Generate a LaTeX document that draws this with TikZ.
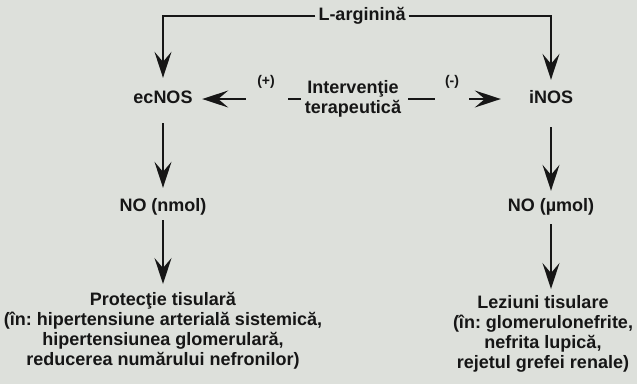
\documentclass[tikz,border=0pt]{standalone}
\usepackage{fontspec}
\setmainfont{Liberation Sans}
\usetikzlibrary{arrows.meta}
\definecolor{bg}{HTML}{DDE0DB}
\definecolor{ink}{HTML}{161616}
\frenchspacing
\begin{document}
\begin{tikzpicture}[x=1pt,y=-1pt,
  every node/.style={font=\bfseries\fontsize{18}{20}\selectfont, text=ink, inner sep=0pt},
  lbl/.style={text height=13pt, text depth=4pt},
  multi/.style={align=center, anchor=north},
  sign/.style={font=\bfseries\fontsize{14}{16}\selectfont},
  conn/.style={draw=ink, line width=1.8pt, -{Stealth[length=26pt,width=17pt,inset=10pt]}}]
\fill[bg] (0,0) rectangle (637,384);
\useasboundingbox (0,0) rectangle (637,384);
% nodes
\node[lbl] (larg) at (362,16) {L-arginină};
\node[lbl] (ecnos) at (163,99) {ecNOS};
\node[lbl] (inos) at (551,99) {iNOS};
\node[align=center] (interv) at (353,99) {Intervenţie\\terapeutică};
\node[sign] (plus) at (266,82) {(+)};
\node[sign] (minus) at (452,82) {(-)};
\node[lbl] (nonm) at (163,207) {NO (nmol)};
\node[lbl] (noum) at (551,207) {NO (µmol)};
\node[multi] (prot) at (163,292) {Protecţie tisulară\\(în: hipertensiune arterială sistemică,\\hipertensiunea glomerulară,\\reducerea numărului nefronilor)};
\node[multi] (lez) at (543,295) {Leziuni tisulare\\(în: glomerulonefrite,\\nefrita lupică,\\rejetul grefei renale)};
% connectors
\draw[conn, shorten <=3pt, shorten >=12.5pt] (larg.west) -| (ecnos.north);
\draw[conn, shorten <=3pt, shorten >=10.5pt] (larg.east) -| (inos.north);
\draw[conn, shorten <=4pt, shorten >=9.5pt, dash pattern=on 13pt off 42pt on 400pt] (interv.west) -- (ecnos.east);
\draw[conn, shorten <=7pt, shorten >=28pt, dash pattern=on 27pt off 34pt on 400pt] (interv.east) -- (inos.west);
\draw[conn, shorten <=15.5pt, shorten >=10.5pt] (ecnos.south) -- (nonm.north);
\draw[conn, shorten <=4.5pt, shorten >=8pt] (nonm.south) -- (prot.north);
\draw[conn, shorten <=19.5pt, shorten >=7.5pt] (inos.south) -- (noum.north);
\draw[conn, shorten <=8.5pt, shorten >=6pt] (noum.south) -- (lez.north -| noum.south);
\end{tikzpicture}
\end{document}
